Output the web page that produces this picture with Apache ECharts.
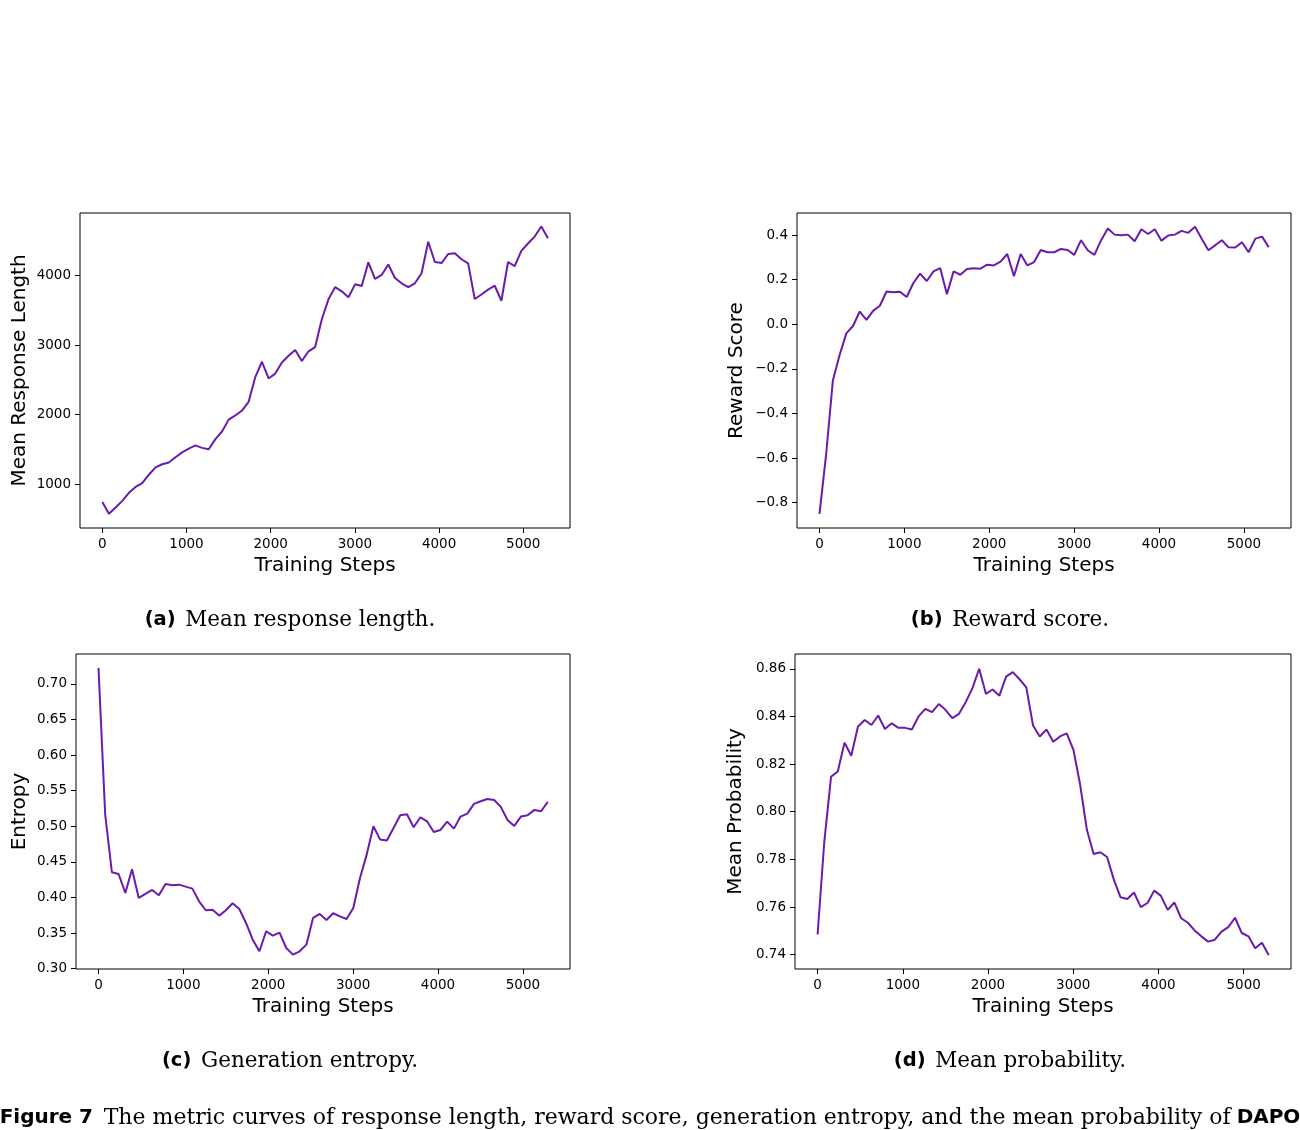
<!DOCTYPE html>
<html>
<head>
<meta charset="utf-8">
<script src="https://cdn.jsdelivr.net/npm/echarts@6/dist/echarts.min.js"></script>
<style>
html, body { margin: 0; padding: 0; background: #fff; }
#main { width: 1300px; height: 1130px; }
</style>
</head>
<body>
<div id="main"></div>
<script>
// training steps shared by all four curves
var steps = [0, 79, 158, 237, 316, 395, 474, 553, 632, 711, 790, 869, 948, 1027, 1106, 1185, 1264,
	1343, 1422, 1501, 1580, 1659, 1738, 1817, 1896, 1975, 2054, 2133, 2212, 2291, 2370, 2449, 2528,
	2607, 2686, 2765, 2844, 2923, 3002, 3081, 3160, 3239, 3318, 3397, 3476, 3555, 3634, 3713, 3792,
	3871, 3950, 4029, 4108, 4187, 4266, 4345, 4424, 4503, 4582, 4661, 4740, 4819, 4898, 4977, 5056,
	5135, 5214, 5293];

var responseLength = [750, 580, 670, 765, 880, 965, 1020, 1140, 1245, 1290,
	1315, 1390, 1460, 1515, 1560, 1525, 1505, 1650, 1760, 1930,
	1990, 2060, 2185, 2540, 2760, 2520, 2590, 2750, 2845, 2930,
	2770, 2910, 2970, 3370, 3655, 3830, 3770, 3685, 3870, 3845,
	4185, 3950, 4005, 4155, 3960, 3885, 3830, 3885, 4030, 4480,
	4190, 4175, 4305, 4315, 4230, 4170, 3660, 3725, 3795, 3850,
	3635, 4190, 4130, 4350, 4455, 4555, 4700, 4530];

var rewardScore = [-0.851, -0.581, -0.251, -0.138, -0.041, -0.008, 0.057, 0.020, 0.060, 0.083,
	0.147, 0.144, 0.146, 0.122, 0.185, 0.227, 0.194, 0.237, 0.252, 0.135,
	0.237, 0.222, 0.248, 0.251, 0.249, 0.267, 0.264, 0.281, 0.315, 0.216,
	0.315, 0.264, 0.279, 0.333, 0.323, 0.323, 0.338, 0.333, 0.311, 0.377,
	0.332, 0.311, 0.377, 0.429, 0.402, 0.399, 0.402, 0.372, 0.426, 0.405,
	0.426, 0.375, 0.398, 0.402, 0.419, 0.410, 0.437, 0.384, 0.332, 0.354,
	0.377, 0.345, 0.344, 0.368, 0.323, 0.384, 0.393, 0.345];

var entropy = [0.7225, 0.5164, 0.4354, 0.4330, 0.4063, 0.4396, 0.3993, 0.4049, 0.4105, 0.4030,
	0.4190, 0.4171, 0.4180, 0.4152, 0.4124, 0.3946, 0.3820, 0.3829, 0.3745, 0.3820,
	0.3918, 0.3838, 0.3642, 0.3407, 0.3244, 0.3525, 0.3464, 0.3506, 0.3290, 0.3197,
	0.3244, 0.3337, 0.3712, 0.3768, 0.3684, 0.3778, 0.3735, 0.3698, 0.3852, 0.4274,
	0.4602, 0.5000, 0.4813, 0.4799, 0.4977, 0.5155, 0.5169, 0.4986, 0.5126, 0.5070,
	0.4920, 0.4948, 0.5066, 0.4967, 0.5136, 0.5178, 0.5314, 0.5351, 0.5384, 0.5370,
	0.5272, 0.5089, 0.5005, 0.5136, 0.5155, 0.5230, 0.5211, 0.5342];

var meanProb = [0.7485, 0.7875, 0.8147, 0.8169, 0.8290, 0.8235, 0.8358, 0.8385, 0.8364, 0.8404,
	0.8347, 0.8371, 0.8352, 0.8352, 0.8345, 0.8400, 0.8432, 0.8418, 0.8452, 0.8428,
	0.8393, 0.8411, 0.8460, 0.8519, 0.8600, 0.8495, 0.8513, 0.8487, 0.8567, 0.8586,
	0.8556, 0.8522, 0.8362, 0.8316, 0.8345, 0.8294, 0.8316, 0.8329, 0.8260, 0.8113,
	0.7924, 0.7823, 0.7830, 0.7810, 0.7715, 0.7641, 0.7634, 0.7661, 0.7600, 0.7617,
	0.7669, 0.7647, 0.7588, 0.7619, 0.7553, 0.7534, 0.7502, 0.7477, 0.7455, 0.7463,
	0.7497, 0.7516, 0.7555, 0.7491, 0.7477, 0.7427, 0.7450, 0.7399];

// tick labels
var stepTicks = [0, 1000, 2000, 3000, 4000, 5000];
var lengthTicks = [1000, 2000, 3000, 4000];
var rewardTicks = [-0.8, -0.6, -0.4, -0.2, 0.0, 0.2, 0.4];
var entropyTicks = [0.30, 0.35, 0.40, 0.45, 0.50, 0.55, 0.60, 0.65, 0.70];
var probTicks = [0.74, 0.76, 0.78, 0.80, 0.82, 0.84, 0.86];

var lineColor = '#6a1bae';
var sans = 'DejaVu Sans';

function pairs(xs, ys) {
	return ys.map(function(v, i) { return [xs[i], v]; });
}

function fmt(digits) {
	return function(v) {
		var s = Math.abs(v).toFixed(digits);
		return (v < -1e-9 ? '\u2212' : '') + s;
	};
}

function xAx(idx) {
	return {
		type : 'value',
		gridIndex : idx,
		min : -265,
		max : 5555,
		name : 'Training Steps',
		nameLocation : 'middle',
		nameGap : 28,
		nameTextStyle : { fontFamily : sans, fontSize : 20, color : '#000' },
		axisLine : { show : false, onZero : false },
		splitLine : { show : false },
		axisTick : { show : true, length : 5, customValues : stepTicks, lineStyle : { color : '#000' } },
		axisLabel : { customValues : stepTicks, formatter : function(v) { return String(v); },
			margin : 9, fontFamily : sans, fontSize : 13.5, color : '#000' }
	};
}

function yAx(idx, name, min, max, ticks, formatter, gap) {
	return {
		type : 'value',
		gridIndex : idx,
		min : min,
		max : max,
		name : name,
		nameLocation : 'middle',
		nameGap : gap,
		nameTextStyle : { fontFamily : sans, fontSize : 20, color : '#000' },
		axisLine : { show : false, onZero : false },
		splitLine : { show : false },
		axisTick : { show : true, length : 5, customValues : ticks, lineStyle : { color : '#000' } },
		axisLabel : { customValues : ticks, formatter : formatter, margin : 9, fontFamily : sans, fontSize : 13.5, color : '#000' }
	};
}

function gridBox(left, top, width) {
	return { left : left, top : top, width : width, height : 315, show : true,
		borderColor : '#000', borderWidth : 1, backgroundColor : 'transparent' };
}

function lineSeries(idx, data) {
	return {
		type : 'line',
		xAxisIndex : idx,
		yAxisIndex : idx,
		data : pairs(steps, data),
		showSymbol : false,
		lineStyle : { color : lineColor, width : 2 },
		silent : true
	};
}

var captionRich = {
	b : { fontFamily : sans, fontWeight : 'bold', fontSize : 19.5, color : '#000', padding : [ 0, 3, 0, 0 ] },
	s : { fontFamily : 'DejaVu Serif', fontSize : 21.5, color : '#000' }
};

// the long figure caption is a little larger so it spans the page width
var figRich = {
	b : { fontFamily : sans, fontWeight : 'bold', fontSize : 20, color : '#000', padding : [ 0, 4, 0, 0 ] },
	s : { fontFamily : 'DejaVu Serif', fontSize : 22, color : '#000' },
	d : { fontFamily : sans, fontWeight : 'bold', fontSize : 20, color : '#000', padding : [ 0, 0, 0, 6 ] }
};

function caption(x, y, tag, text) {
	return {
		type : 'text',
		x : x,
		y : y,
		style : {
			text : '{b|' + tag + '}  {s|' + text + '}',
			rich : captionRich,
			align : 'center',
			verticalAlign : 'middle'
		}
	};
}

var myChart = echarts.init(document.getElementById('main'));
var option = {
	backgroundColor : '#fff',
	animation : false,
	grid : [ gridBox(80, 213, 490), gridBox(797, 213, 494), gridBox(76, 654, 494), gridBox(795, 654, 496) ],
	xAxis : [ xAx(0), xAx(1), xAx(2), xAx(3) ],
	yAxis : [
		yAx(0, 'Mean Response Length', 376, 4893, lengthTicks, function(v) { return String(v); }, 50),
		yAx(1, 'Reward Score', -0.914, 0.499, rewardTicks, fmt(1), 50),
		yAx(2, 'Entropy', 0.2995, 0.742, entropyTicks, fmt(2), 46),
		yAx(3, 'Mean Probability', 0.734, 0.8662, probTicks, fmt(2), 49)
	],
	series : [ lineSeries(0, responseLength), lineSeries(1, rewardScore), lineSeries(2, entropy), lineSeries(3, meanProb) ],
	graphic : [
		caption(290, 620, '(a)', 'Mean response length.'),
		caption(1010, 620, '(b)', 'Reward score.'),
		caption(290, 1061, '(c)', 'Generation entropy.'),
		caption(1010, 1061, '(d)', 'Mean probability.'),
		{
			type : 'text',
			x : 650,
			y : 1118,
			style : {
				text : '{b|Figure 7}  {s|The metric curves of response length, reward score, generation entropy, and the mean probability of}{d|DAPO}',
				rich : figRich,
				align : 'center',
				verticalAlign : 'middle'
			}
		}
	]
};
myChart.setOption(option);
</script>
</body>
</html>
